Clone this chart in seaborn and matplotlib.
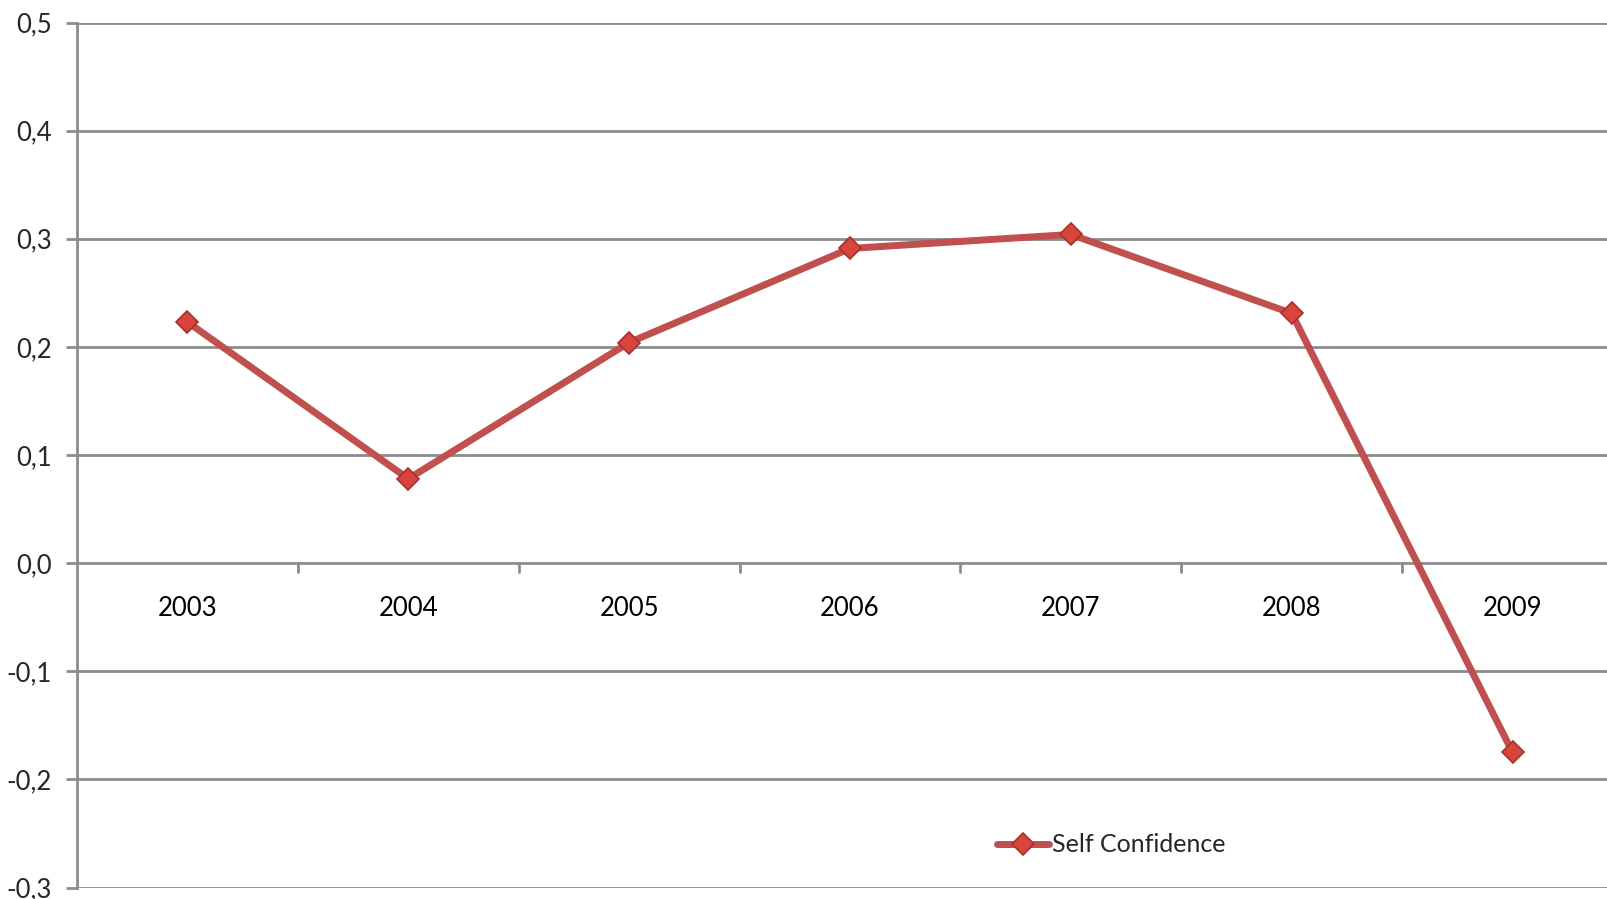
import pandas as pd
import matplotlib
matplotlib.use("Agg")
import matplotlib.pyplot as plt
import matplotlib.ticker as mticker
import seaborn as sns

# data
years = ["2003", "2004", "2005", "2006", "2007", "2008", "2009"]
self_confidence = [0.223, 0.078, 0.204, 0.291, 0.304, 0.231, -0.175]
y_ticks = [-0.3, -0.2, -0.1, 0.0, 0.1, 0.2, 0.3, 0.4, 0.5]

df = pd.DataFrame({"year": years, "value": self_confidence})
df["pos"] = range(len(years))

sns.set_style("white")
plt.rcParams["font.family"] = ["Lato", "DejaVu Sans"]

red = "#C0504D"
grid_col = "#8C8C8C"

fig = plt.figure(figsize=(16.07, 8.99), dpi=100)
ax = fig.add_axes([77 / 1607, 1 - 887.5 / 899, (1623 - 77) / 1607, (887.5 - 22.5) / 899])

for t in y_ticks:
    ax.axhline(t, color=grid_col, lw=2, zorder=1)

sns.lineplot(data=df, x="pos", y="value", ax=ax, color=red, lw=5,
             marker="D", markersize=11, markerfacecolor="#D9443C",
             markeredgecolor="#A8302C", markeredgewidth=1.2,
             label="Self Confidence", zorder=3)

ax.set_xlim(-0.5, len(years) - 0.5)
ax.set_ylim(-0.3, 0.5)
ax.set_yticks(y_ticks)
ax.yaxis.set_major_formatter(mticker.FuncFormatter(lambda v, p: f"{v:.1f}".replace(".", ",")))
ax.tick_params(axis="y", left=True, length=8, width=2, color=grid_col,
               labelsize=18.5, pad=10)

# category labels just under the zero line, ticks between categories
ax.set_xticks([])
ax.set_xlabel("")
ax.set_ylabel("")
for i, yr in enumerate(years):
    ax.text(i, -0.042, yr, ha="center", va="center", fontsize=18.5, color="black")
for i in range(1, len(years)):
    ax.plot([i - 0.5, i - 0.5], [0, -0.008], color=grid_col, lw=2, zorder=1,
            clip_on=False)

for side in ["top", "right", "bottom"]:
    ax.spines[side].set_visible(False)
ax.spines["left"].set_color(grid_col)
ax.spines["left"].set_linewidth(2)

leg = ax.legend(loc="center left", bbox_to_anchor=(984 / 1607, 1 - 845 / 899),
                bbox_transform=fig.transFigure, frameon=False, fontsize=18,
                handlelength=2.1, handletextpad=0.1, borderpad=0)

fig.savefig("out.png", dpi=100)
